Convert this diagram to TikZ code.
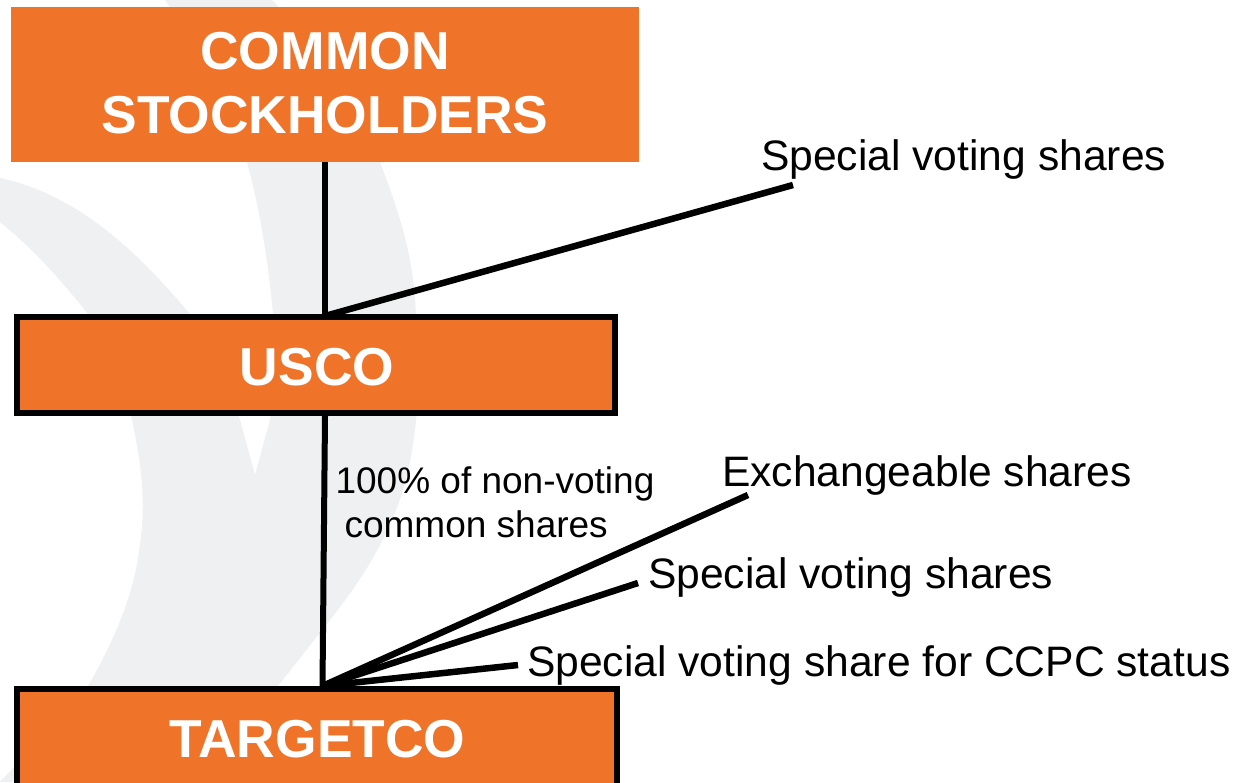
\documentclass[tikz,border=0pt]{standalone}
\usepackage{fontspec}
\setmainfont{Liberation Sans}
\definecolor{org}{HTML}{EF7328}
\definecolor{wm}{HTML}{EEF0F1}
\tikzset{
 box/.style={fill=org,inner sep=0pt,text=white,font=\bfseries\fontsize{53.4}{64}\selectfont,align=center},
 framed/.style={box,draw=black,line width=6pt},
 lab/.style={inner sep=0pt,text=black,font=\fontsize{42.6}{44}\selectfont,anchor=base west},
 lab2/.style={inner sep=0pt,text=black,font=\fontsize{37}{44}\selectfont,align=left},
 conn/.style={draw=black,line width=6pt},
 fan/.style={draw=black,line width=6.5pt},
}
\begin{document}
\begin{tikzpicture}[x=1pt,y=-1pt]
\useasboundingbox (0,0) rectangle (1239,782);
\fill[white] (0,0) rectangle (1239,782);
% watermark
\fill[wm] (165,0) -- (272,0) .. controls (325,55) and (360,105) .. (380,162)
 .. controls (400,215) and (415,260) .. (416,320) .. controls (420,360) and (420,390) .. (416,420)
 .. controls (412,460) and (405,490) .. (392,520) .. controls (375,560) and (350,595) .. (326,625)
 -- (278,686) -- (200,782) -- (0,782) -- (14,767) .. controls (40,740) and (70,715) .. (88,686)
 .. controls (115,640) and (135,590) .. (139,550) .. controls (146,510) and (143,470) .. (132,420)
 .. controls (125,385) and (108,345) .. (88,314)
 .. controls (65,285) and (35,250) .. (0,222) -- (0,178) .. controls (80,195) and (140,255) .. (190,314)
 .. controls (210,345) and (228,385) .. (240,420) -- (255,475) -- (270,420)
 .. controls (275,385) and (277,345) .. (273,314) .. controls (268,260) and (260,210) .. (247,162)
 .. controls (230,105) and (200,50) .. (165,0) -- cycle;
\node[box,minimum width=628,minimum height=155] (cs) at (325,84.5) {COMMON\\STOCKHOLDERS\\[-60pt]\mbox{}};
\node[framed,minimum width=598,minimum height=96,text height=40pt,text depth=0pt] (us) at (316,365) {\hspace*{2pt}USCO};
\node[framed,minimum width=600,minimum height=110,text height=30pt,text depth=4pt] (tc) at (317,744) {\hspace*{1pt}TARGETCO};
\coordinate (usTop) at (325,316);
\coordinate (usBot) at (325,416);
\coordinate (tcTop) at (322.5,686);
\node[lab] (l1) at (761,170) {Special voting shares};
\node[lab] (l2) at (722,486) {Exchangeable shares};
\node[lab] (l3) at (648,588) {Special voting shares};
\node[lab] (l4) at (527,676) {Special voting share for CCPC status};
\node[lab2] (l5) at (495,502) {100\% of non-voting\\\hspace{9pt}common shares};
\coordinate (e1) at (793,185);
\coordinate (e2) at (748,495);
\coordinate (e3) at (638,583);
\coordinate (e4) at (518,665);
\draw[conn] (cs.south -| usTop) -- (usTop);
\draw[conn] (usBot) -- (tcTop);
\draw[fan] (usTop) -- (e1);
\draw[fan] (tcTop) -- (e2);
\draw[fan] (tcTop) -- (e3);
\draw[fan] (tcTop) -- (e4);
\end{tikzpicture}
\end{document}
